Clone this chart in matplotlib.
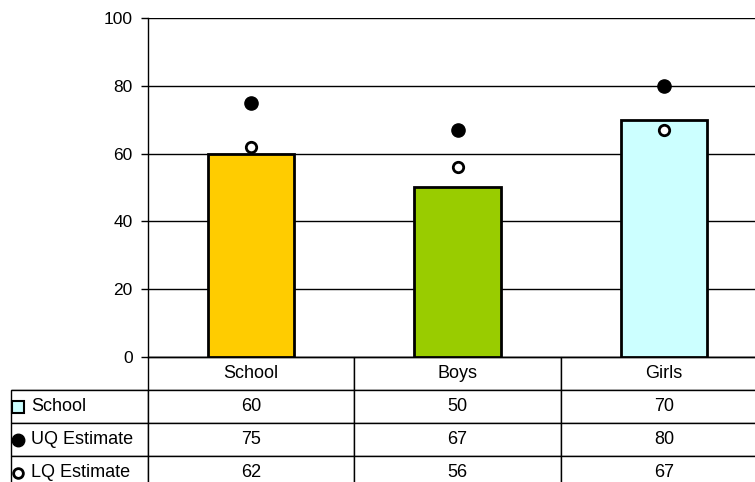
import matplotlib
matplotlib.use("Agg")
import matplotlib.pyplot as plt
from matplotlib.table import Table

plt.rcParams['font.family'] = ['Liberation Sans', 'DejaVu Sans']

categories = ['School', 'Boys', 'Girls']
school = [60, 50, 70]
uq_est = [75, 67, 80]
lq_est = [62, 56, 67]
bar_colors = ['#FFCC00', '#99CC00', '#CCFFFF']
row_names = ['School', 'UQ Estimate', 'LQ Estimate']

W, H = 755, 482
fig = plt.figure(figsize=(W / 100, H / 100), dpi=100)
# plot area in pixels: left 148, right 767 (runs past the edge), top 18, bottom 357
x0, x1, y0, y1 = 148, 767, 357, 18
ax = fig.add_axes([x0 / W, (H - y0) / H, (x1 - x0) / W, (y0 - y1) / H])

xs = range(len(categories))
ax.bar(xs, school, width=0.42, color=bar_colors, edgecolor='black', linewidth=2, zorder=3)
ax.plot(xs, uq_est, 'o', color='black', markersize=9.5, zorder=4, linestyle='none')
ax.plot(xs, lq_est, 'o', markerfacecolor='white', markeredgecolor='black',
        markersize=7.5, markeredgewidth=2, zorder=4, linestyle='none')

ax.set_xlim(-0.5, 2.5)
ax.set_ylim(0, 100)
ax.set_yticks(range(0, 101, 20))
ax.yaxis.grid(True, color='black', linewidth=1)
ax.set_axisbelow(True)
ax.set_xticks([])
ax.tick_params(axis='y', direction='out', length=5, width=1, labelsize=12.5, pad=6)
for s in ['top', 'right']:
    ax.spines[s].set_visible(False)
ax.spines['left'].set_linewidth(1)
ax.spines['bottom'].set_linewidth(1)

# data table under the plot
ax_w, ax_h = x1 - x0, y0 - y1
tbl_left = 11
row_h = 33
label_w = x0 - tbl_left
col_w = (x1 - x0) / 3
rows = [school, uq_est, lq_est]

tbl = Table(ax, bbox=[(tbl_left - x0) / ax_w, -4 * row_h / ax_h,
                      (x1 - tbl_left) / ax_w, 4 * row_h / ax_h])
corner = tbl.add_cell(0, 0, width=label_w, height=row_h, text='')
corner.visible_edges = 'B'
for j, cat in enumerate(categories):
    tbl.add_cell(0, j + 1, width=col_w, height=row_h, text=cat, loc='center')
for i, (name, vals) in enumerate(zip(row_names, rows)):
    lab = tbl.add_cell(i + 1, 0, width=label_w, height=row_h, text=name, loc='left')
    lab.PAD = 20 / label_w
    for j, v in enumerate(vals):
        tbl.add_cell(i + 1, j + 1, width=col_w, height=row_h, text=str(v), loc='center')
tbl.auto_set_font_size(False)
tbl.set_fontsize(13)
for cell in tbl.get_celld().values():
    cell.set_edgecolor('black')
    cell.set_linewidth(1)
ax.add_table(tbl)

# legend keys in the label column
key_x = (18 - x0) / ax_w
row_y = [-row_h * (i + 1.5) / ax_h for i in range(3)]
ax.plot(key_x, row_y[0], 's', transform=ax.transAxes, clip_on=False,
        markerfacecolor='#CCFFFF', markeredgecolor='black', markersize=8, markeredgewidth=1.5)
ax.plot(key_x, row_y[1], 'o', transform=ax.transAxes, clip_on=False,
        color='black', markersize=9)
ax.plot(key_x, row_y[2], 'o', transform=ax.transAxes, clip_on=False,
        markerfacecolor='white', markeredgecolor='black', markersize=7, markeredgewidth=2)

fig.savefig('out.png', dpi=100)
